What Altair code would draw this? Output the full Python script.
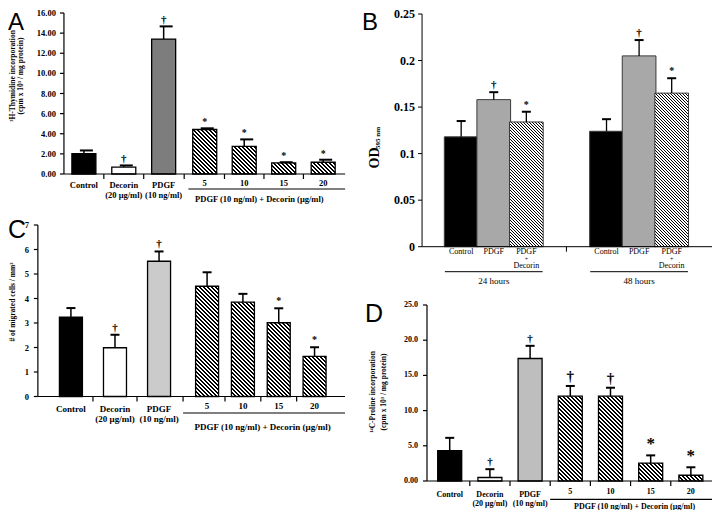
import altair as alt
import pandas as pd

M = 8  # page margin: chart coordinate = reference pixel - M
SERIF = "Liberation Serif"
SANS = "Liberation Sans"
DUMMY = pd.DataFrame({"z": [0]})

# ============================ DATA ============================
# Panel A : 3H-thymidine incorporation
A_cats = ["Control", "Decorin", "PDGF", "5", "10", "15", "20"]
A_subs = ["", "(20 μg/ml)", "(10 ng/ml)", "", "", "", ""]
A_mean = [2.02, 0.69, 13.41, 4.42, 2.75, 1.10, 1.17]
A_err = [0.32, 0.16, 1.26, 0.12, 0.69, 0.07, 0.25]
A_sig = ["", "†", "†", "*", "*", "*", "*"]
A_ticks = [0, 2, 4, 6, 8, 10, 12, 14, 16]
A_tick_text = ["0.00", "2.00", "4.00", "6.00", "8.00", "10.00", "12.00", "14.00", "16.00"]
A_title = ["³H-Thymidine incorporation", "(cpm x 10³ / mg protein)"]

# Panel B : OD 595 nm
B_times = ["24 hours", "48 hours"]
B_treat1 = ["Control", "PDGF", "PDGF"]
B_treat2 = ["", "", "+"]
B_treat3 = ["", "", "Decorin"]
B_mean_24 = [0.118, 0.158, 0.134]
B_err_24 = [0.017, 0.008, 0.011]
B_mean_48 = [0.124, 0.205, 0.165]
B_err_48 = [0.013, 0.017, 0.016]
B_sig = ["", "†", "*"]
B_ticks = [0, 0.05, 0.1, 0.15, 0.2, 0.25]
B_tick_text = ["0", "0.05", "0.1", "0.15", "0.2", "0.25"]

# Panel C : migrated cells
C_cats = A_cats
C_subs = A_subs
C_mean = [3.24, 1.99, 5.52, 4.50, 3.85, 3.01, 1.64]
C_err = [0.37, 0.53, 0.40, 0.57, 0.34, 0.59, 0.37]
C_sig = ["", "†", "†", "", "", "*", "*"]
C_ticks = [0, 1, 2, 3, 4, 5, 6, 7]
C_tick_text = ["0", "1", "2", "3", "4", "5", "6", "7"]
C_title = "# of migrated cells / mm²"

# Panel D : 14C-proline incorporation
D_cats = A_cats
D_subs = A_subs
D_mean = [4.32, 0.50, 17.40, 12.05, 12.05, 2.55, 0.82]
D_err = [1.81, 1.18, 1.80, 1.45, 1.20, 1.09, 1.13]
D_sig = ["", "†", "†", "†", "†", "*", "*"]
D_ticks = [0, 5, 10, 15, 20, 25]
D_tick_text = ["0.00", "5.0", "10.0", "15.0", "20.0", "25.0"]
D_title = ["¹⁴C-Proline incorporation", "(cpm x 10³ / mg protein)"]

GROUP_LABEL = "PDGF (10 ng/ml)  + Decorin (μg/ml)"

# ============================ STYLE ============================
A_fill = ["black", "white", "#7d7d7d", "hatch", "hatch", "hatch", "hatch"]
B_fill = ["black", "#a8a8a8", "hatch"]
C_fill = ["black", "white", "#cbcbcb", "hatch", "hatch", "hatch", "hatch"]
D_fill = ["black", "white", "#bebebe", "hatch", "hatch", "hatch", "hatch"]
A_sig_size = [10, 11, 11, 10, 10, 10, 10]
B_sig_size = [10, 11, 10]
C_sig_size = [10, 11, 11, 10, 10, 10, 10]
D_sig_size = [10, 11, 11, 15, 15, 17, 17]


def hatch(w, h, period, black):
    """Diagonal (\\\\) hatch as a linear gradient in the bar's bounding box."""
    h = max(h, 1.0)
    k = max(1.0, (w + h) * w / (w * w + h * h))
    denom = k * (w * w + h * h) / w
    stops = []
    n = 0
    while True:
        s0 = n * period
        s1 = s0 + black
        s2 = (n + 1) * period
        for s, c in ((s0, "black"), (s1, "black"), (s1, "white"), (s2, "white")):
            stops.append({"offset": round(min(s / denom, 1.0), 6), "color": c})
        n += 1
        if s2 / denom >= 1.0:
            break
    return {"gradient": "linear", "x1": 0, "y1": 1, "x2": k, "y2": 1 - k * h / w,
            "stops": stops}


class Panel:
    def __init__(self, x0, pitch, xlo, xhi, y0, ytop, ymax):
        self.xlo, self.xhi, self.ymax = xlo, xhi, ymax
        self.pxu = (y0 - ytop) / ymax
        self.xs = alt.Scale(domain=[xlo, xhi],
                            range=[x0 + xlo * pitch - M, x0 + xhi * pitch - M],
                            nice=False, zero=False)
        self.ys = alt.Scale(domain=[0, ymax], range=[y0 - M, ytop - M],
                            nice=False, zero=False)
        self.layers = []

    def X(self, f):
        return alt.X(f, type="quantitative", scale=self.xs, axis=None)

    def XD(self, v):
        return alt.XDatum(v, type="quantitative", scale=self.xs, axis=None)

    def Y(self, f):
        return alt.Y(f, type="quantitative", scale=self.ys, axis=None)

    def YD(self, v):
        return alt.YDatum(v, type="quantitative", scale=self.ys, axis=None)

    def bars(self, df, fills, bw, stroke, sw, hp, hb):
        for i in range(len(df)):
            row = df.iloc[[i]]
            f = fills[i]
            if f == "hatch":
                f = hatch(bw, float(row["mean"].iloc[0]) * self.pxu, hp, hb)
            self.layers.append(
                alt.Chart(row).mark_bar(orient="vertical", size=bw, fill=f,
                                        stroke=stroke, strokeWidth=sw)
                .encode(x=self.X("slot"), y=self.Y("mean"), y2=alt.Y2Datum(0)))

    def errors(self, df, ew, cap):
        self.layers.append(
            alt.Chart(df).mark_rule(color="black", strokeWidth=ew)
            .encode(x=self.X("slot"), y=self.Y("mean"), y2=alt.Y2("top")))
        self.layers.append(
            alt.Chart(df).mark_rule(color="black", strokeWidth=2,
                                    xOffset=cap[0], x2Offset=cap[1])
            .encode(x=self.X("slot"), x2=alt.X2("slot"), y=self.Y("top")))

    def sig(self, df, off=-2):
        self.layers.append(
            alt.Chart(df).mark_text(font=SERIF, fontWeight="bold", baseline="bottom",
                                    yOffset=off, fill="black", opacity=0.99)
            .encode(x=self.X("slot"), y=self.Y("top"), text="sig:N",
                    size=alt.Size("sfs:Q", scale=None)))

    def yaxis(self, ticks, texts, fs, tlen, gap, sw=1.2):
        self.layers.append(
            alt.Chart(DUMMY).mark_rule(color="black", strokeWidth=sw)
            .encode(x=self.XD(self.xlo), y=self.YD(0), y2=alt.Y2Datum(self.ymax)))
        tdf = pd.DataFrame({"v": ticks, "t": texts})
        self.layers.append(
            alt.Chart(tdf).mark_rule(color="black", strokeWidth=sw, xOffset=-tlen)
            .encode(x=self.XD(self.xlo), x2=alt.X2Datum(self.xlo), y=self.Y("v")))
        self.layers.append(
            alt.Chart(tdf).mark_text(font=SERIF, fontWeight="bold", fontSize=fs,
                                     align="right", baseline="middle", xOffset=-gap)
            .encode(x=self.XD(self.xlo), y=self.Y("v"), text="t:N"))

    def xaxis(self, seps, slen, sw=1.2):
        self.layers.append(
            alt.Chart(DUMMY).mark_rule(color="black", strokeWidth=sw)
            .encode(x=self.XD(self.xlo), x2=alt.X2Datum(self.xhi), y=self.YD(0)))
        sdf = pd.DataFrame({"s": seps})
        self.layers.append(
            alt.Chart(sdf).mark_rule(color="black", strokeWidth=sw, y2Offset=slen)
            .encode(x=self.X("s"), y=self.YD(0), y2=alt.Y2Datum(0)))

    def labels(self, df, field, off, fs, weight="bold"):
        self.layers.append(
            alt.Chart(df).mark_text(font=SERIF, fontWeight=weight, fontSize=fs,
                                    baseline="middle", yOffset=off, color="black")
            .encode(x=self.X("slot"), y=self.YD(0), text=f"{field}:N"))

    def gline(self, a, b, off, sw=1.2):
        self.layers.append(
            alt.Chart(DUMMY).mark_rule(color="black", strokeWidth=sw, yOffset=off)
            .encode(x=self.XD(a), x2=alt.X2Datum(b), y=self.YD(0)))

    def gtext(self, xc, off, text, fs, weight="bold"):
        self.layers.append(
            alt.Chart(pd.DataFrame({"t": [text]}))
            .mark_text(font=SERIF, fontWeight=weight, fontSize=fs,
                       baseline="middle", yOffset=off, color="black")
            .encode(x=self.XD(xc), y=self.YD(0), text="t:N"))

    def free(self, x, y, text, fs, angle=0, font=SERIF, weight="bold",
             align="center", baseline="middle"):
        self.layers.append(
            alt.Chart(pd.DataFrame({"t": [text]}))
            .mark_text(font=font, fontWeight=weight, fontSize=fs, angle=angle,
                       align=align, baseline=baseline, color="black")
            .encode(x=alt.value(x), y=alt.value(y), text="t:N"))

    def chart(self):
        return alt.layer(*self.layers)


def mids(slots):
    return [(a + b) / 2 for a, b in zip(slots[:-1], slots[1:])]


def mk_df(slots, means, errs, sigs, sizes, **labs):
    d = {"slot": slots, "mean": means,
         "top": [m + e for m, e in zip(means, errs)],
         "sig": sigs, "sfs": sizes}
    d.update(labs)
    return pd.DataFrame(d)


# ============================ PANEL A ============================
A_slots = [0, 1, 2] + [3.03 + 0.99 * j for j in range(4)]
pa = Panel(x0=79.6, pitch=41.3, xlo=-0.5, xhi=6.55, y0=174, ytop=13, ymax=16)
dfa = mk_df(A_slots, A_mean, A_err, A_sig, A_sig_size, lab1=A_cats, lab2=A_subs)
pa.bars(dfa, A_fill, bw=24, stroke="black", sw=1.3, hp=4, hb=2)
pa.errors(dfa, ew=1.5, cap=(-4, 9))
pa.sig(dfa, off=-1)
pa.yaxis(A_ticks, A_tick_text, fs=8.5, tlen=4, gap=8)
pa.xaxis(mids(A_slots), 5)
pa.labels(dfa.iloc[:3], "lab1", 11, 8.5)
pa.labels(dfa.iloc[:3], "lab2", 21, 8.5)
pa.labels(dfa.iloc[3:], "lab1", 9, 8.5)
pa.gline(2.62, 6.55, 15)
pa.gtext(4.4, 25, GROUP_LABEL, 8.5)
pa.free(13 - M, 76 - M, A_title[0], 7.5, angle=270)
pa.free(21 - M, 76 - M, A_title[1], 7.5, angle=270)
pa.free(0, 3, "A", 24, font=SANS, weight="normal", align="left", baseline="top")

# ============================ PANEL B ============================
B_gap = 4.46
B_slots = [g * B_gap + b for g in range(2) for b in range(3)]
pb = Panel(x0=457.5, pitch=33.7, xlo=-1.2, xhi=7.8, y0=246.7, ytop=14, ymax=0.25)
dfb = mk_df(B_slots, B_mean_24 + B_mean_48, B_err_24 + B_err_48, B_sig * 2,
            B_sig_size * 2, lab1=B_treat1 * 2, lab2=B_treat2 * 2, lab3=B_treat3 * 2)
pb.bars(dfb, B_fill * 2, bw=33.7, stroke="#3a3a3a", sw=1.0, hp=3, hb=1)
pb.errors(dfb, ew=1.3, cap=(-4.5, 4.5))
pb.sig(dfb)
pb.yaxis(B_ticks, B_tick_text, fs=12, tlen=4, gap=7, sw=1.0)
pb.xaxis([(2 + B_gap) / 2], 5, sw=1.0)
pb.labels(dfb, "lab1", 5, 8, weight="normal")
pb.labels(dfb, "lab2", 12, 6, weight="normal")
pb.labels(dfb, "lab3", 19.5, 8, weight="normal")
for g, name in enumerate(B_times):
    pb.gline(g * B_gap - 0.5, g * B_gap + 2.5, 25, sw=1.0)
    pb.gtext(g * B_gap + 1, 34, name, 9, weight="normal")
pb.free(374.5 - M, 158 - M, "OD", 14, angle=270)
pb.free(377.5 - M, 138 - M, "595 nm", 7, angle=270)
pb.free(362 - M, 3, "B", 24, font=SANS, weight="normal", align="left",
        baseline="top")

# ============================ PANEL C ============================
C_slots = [0, 1, 2] + [3.09 + 0.813 * j for j in range(4)]
pc = Panel(x0=67, pitch=45.5, xlo=-0.75, xhi=6.22, y0=396.5, ytop=225, ymax=7)
dfc = mk_df(C_slots, C_mean, C_err, C_sig, C_sig_size, lab1=C_cats, lab2=C_subs)
pc.bars(dfc, C_fill, bw=23, stroke="black", sw=1.3, hp=4, hb=2)
pc.errors(dfc, ew=1.5, cap=(-4.5, 4.5))
pc.sig(dfc)
pc.yaxis(C_ticks, C_tick_text, fs=8.5, tlen=4, gap=9)
pc.xaxis(mids(C_slots), 5)
pc.labels(dfc.iloc[:3], "lab1", 12.5, 9)
pc.labels(dfc.iloc[:3], "lab2", 22.5, 9)
pc.labels(dfc.iloc[3:], "lab1", 9.5, 9)
pc.gline((C_slots[2] + C_slots[3]) / 2, 6.22, 16.5)
pc.gtext(4.35, 30.5, GROUP_LABEL, 9)
pc.free(4.5, 302 - M, C_title, 7.5, angle=270)
pc.free(0, 238 - M, "C", 25, font=SANS, weight="normal", align="left",
        baseline="alphabetic")

# ============================ PANEL D ============================
D_slots = [0, 1, 2] + [3 + j for j in range(4)]
pdd = Panel(x0=445.5, pitch=41.6, xlo=-0.565, xhi=6.55, y0=481, ytop=305, ymax=25)
dfd = mk_df(D_slots, D_mean, D_err, D_sig, D_sig_size, lab1=D_cats, lab2=D_subs)
pdd.bars(dfd, D_fill, bw=24, stroke="black", sw=1.3, hp=4, hb=2)
pdd.errors(dfd, ew=1.5, cap=(-4.5, 4.5))
pdd.sig(dfd)
pdd.yaxis(D_ticks, D_tick_text, fs=8, tlen=4, gap=9)
pdd.xaxis(mids(D_slots), 5)
pdd.labels(dfd.iloc[:3], "lab1", 14, 8)
pdd.labels(dfd.iloc[:3], "lab2", 23, 8)
pdd.labels(dfd.iloc[3:], "lab1", 10.7, 8)
pdd.gline(2.5, 6.55, 18.3)
pdd.gtext(4.6, 25.5, GROUP_LABEL, 8)
pdd.free(373 - M, 392 - M, D_title[0], 7.5, angle=270)
pdd.free(384 - M, 392 - M, D_title[1], 7.5, angle=270)
pdd.free(365 - M, 322 - M, "D", 25, font=SANS, weight="normal", align="left",
         baseline="alphabetic")

# ============================ COMBINE ============================
chart = (
    alt.layer(pa.chart(), pb.chart(), pc.chart(), pdd.chart())
    .resolve_scale(x="independent", y="independent")
    .properties(width=704, height=502, padding=0,
                autosize=alt.AutoSizeParams(type="none"))
    .configure_view(stroke=None)
)

chart.save("out.html", embed_options={"renderer": "svg", "actions": False})
